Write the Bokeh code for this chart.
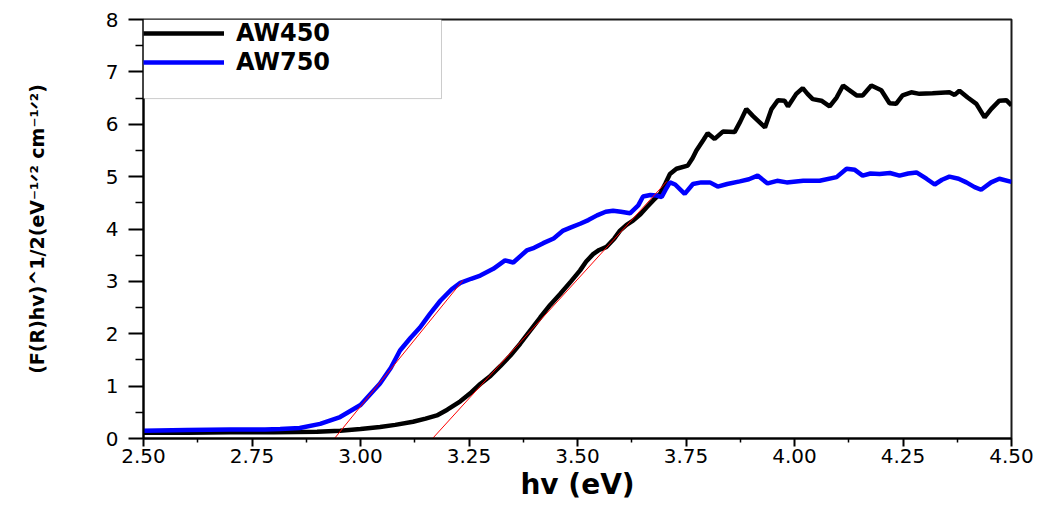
from bokeh.plotting import figure
from bokeh.models import (Range1d, FixedTicker, Legend, LegendItem,
                          BoxAnnotation)
from bokeh.embed import file_html
from bokeh.resources import INLINE

# ---------------- data ----------------
aw450_x = [2.50, 2.60, 2.70, 2.80, 2.90, 2.953, 3.00, 3.045, 3.08, 3.121, 3.15,
           3.176, 3.20, 3.23, 3.255, 3.276, 3.30, 3.322, 3.345, 3.368, 3.39,
           3.414, 3.437, 3.46, 3.485, 3.506, 3.52, 3.536, 3.55, 3.567, 3.585,
           3.598, 3.613, 3.628, 3.645, 3.659, 3.675, 3.69, 3.703, 3.713, 3.728,
           3.754, 3.765, 3.774, 3.782, 3.79, 3.80, 3.816, 3.835, 3.862, 3.875,
           3.889, 3.904, 3.918, 3.932, 3.947, 3.962, 3.977, 3.985, 4.004, 4.019,
           4.03, 4.042, 4.062, 4.081, 4.097, 4.112, 4.123, 4.143, 4.157, 4.177,
           4.20, 4.219, 4.234, 4.249, 4.269, 4.288, 4.318, 4.357, 4.369, 4.38,
           4.399, 4.419, 4.438, 4.453, 4.472, 4.488, 4.50]
aw450_y = [0.11, 0.11, 0.12, 0.12, 0.13, 0.15, 0.18, 0.22, 0.26, 0.32, 0.38,
           0.44, 0.55, 0.71, 0.88, 1.04, 1.20, 1.38, 1.58, 1.81, 2.05,
           2.31, 2.55, 2.76, 3.00, 3.21, 3.38, 3.52, 3.60, 3.66, 3.82,
           3.97, 4.08, 4.16, 4.28, 4.41, 4.55, 4.67, 4.88, 5.05, 5.15,
           5.21, 5.35, 5.50, 5.60, 5.70, 5.83, 5.72, 5.86, 5.85, 6.05,
           6.29, 6.16, 6.05, 5.94, 6.29, 6.46, 6.45, 6.34, 6.58, 6.69,
           6.58, 6.48, 6.45, 6.34, 6.51, 6.74, 6.67, 6.55, 6.55, 6.74,
           6.65, 6.40, 6.39, 6.55, 6.61, 6.58, 6.59, 6.61, 6.56, 6.64,
           6.51, 6.39, 6.13, 6.29, 6.45, 6.46, 6.36]

aw750_x = [2.50, 2.60, 2.70, 2.78, 2.815, 2.86, 2.907, 2.953, 3.00, 3.045, 3.07,
           3.091, 3.115, 3.137, 3.16, 3.184, 3.21, 3.23, 3.255, 3.276, 3.306,
           3.333, 3.352, 3.383, 3.40, 3.421, 3.445, 3.467, 3.485, 3.506, 3.525,
           3.545, 3.565, 3.582, 3.60, 3.621, 3.64, 3.651, 3.668, 3.682, 3.694,
           3.703, 3.713, 3.725, 3.747, 3.766, 3.785, 3.805, 3.823, 3.845, 3.874,
           3.895, 3.915, 3.938, 3.96, 3.982, 4.02, 4.058, 4.097, 4.12, 4.139,
           4.157, 4.175, 4.196, 4.22, 4.242, 4.262, 4.281, 4.304, 4.323, 4.34,
           4.357, 4.378, 4.396, 4.415, 4.43, 4.453, 4.472, 4.50]
aw750_y = [0.15, 0.16, 0.17, 0.17, 0.18, 0.20, 0.28, 0.41, 0.64, 1.05, 1.35,
           1.68, 1.92, 2.12, 2.38, 2.63, 2.85, 2.97, 3.05, 3.11, 3.24,
           3.40, 3.36, 3.59, 3.64, 3.73, 3.82, 3.97, 4.03, 4.10, 4.17,
           4.26, 4.33, 4.35, 4.33, 4.30, 4.45, 4.62, 4.65, 4.64, 4.61,
           4.75, 4.89, 4.85, 4.67, 4.86, 4.89, 4.89, 4.81, 4.86, 4.91,
           4.95, 5.02, 4.87, 4.92, 4.89, 4.92, 4.92, 4.99, 5.15, 5.13,
           5.02, 5.06, 5.05, 5.07, 5.02, 5.06, 5.08, 4.96, 4.85, 4.94,
           5.00, 4.96, 4.89, 4.80, 4.75, 4.89, 4.96, 4.90]

# linear fits (Tauc extrapolation lines)
fit750_x = [2.94, 3.236]
fit750_y = [0.0, 3.02]
fit450_x = [3.166, 3.706]
fit450_y = [0.0, 4.91]

series_names = ["AW450", "AW750"]
x_title = "hv (eV)"
y_title = "(F(R)hv)^1/2(eV\u207b\u00b9\u141f\u00b2 cm\u207b\u00b9\u141f\u00b2)"

x_ticks = [2.50, 2.75, 3.00, 3.25, 3.50, 3.75, 4.00, 4.25, 4.50]
x_tick_labels = ["2.50", "2.75", "3.00", "3.25", "3.50", "3.75", "4.00", "4.25", "4.50"]
x_minor = [2.625, 2.875, 3.125, 3.375, 3.625, 3.875, 4.125, 4.375]
y_ticks = [0, 1, 2, 3, 4, 5, 6, 7, 8]
y_tick_labels = ["0", "1", "2", "3", "4", "5", "6", "7", "8"]
y_minor = [0.5, 1.5, 2.5, 3.5, 4.5, 5.5, 6.5, 7.5]

# ---------------- figure ----------------
p = figure(width=1040, height=505, output_backend="svg", toolbar_location=None,
           x_range=Range1d(2.5, 4.5), y_range=Range1d(0, 8),
           min_border_left=143, min_border_right=29, min_border_top=19,
           min_border_bottom=67)
p.grid.visible = False
p.background_fill_color = "white"
p.border_fill_color = "white"
p.outline_line_color = "#1a1a1a"
p.outline_line_width = 2

r450 = p.line(aw450_x, aw450_y, line_color="black", line_width=4.5)
r750 = p.line(aw750_x, aw750_y, line_color="#0000ff", line_width=4.5)
p.line(fit750_x, fit750_y, line_color="red", line_width=1)
p.line(fit450_x, fit450_y, line_color="red", line_width=1)

# axes
xa = p.xaxis[0]
xa.ticker = FixedTicker(ticks=x_ticks, minor_ticks=x_minor)
xa.major_label_overrides = {t: l for t, l in zip(x_ticks, x_tick_labels)}
xa.major_tick_out = 8
xa.major_tick_in = 0
xa.minor_tick_out = 4
xa.minor_tick_in = 0
xa.major_label_standoff = 2
xa.major_label_text_font = "DejaVu Sans"
xa.major_label_text_font_size = "20px"
xa.major_label_text_color = "black"
xa.axis_label = x_title
xa.axis_label_standoff = 2
xa.axis_label_text_font = "DejaVu Sans"
xa.axis_label_text_font_style = "bold"
xa.axis_label_text_font_size = "28px"
xa.axis_label_text_color = "black"

ya = p.yaxis[0]
ya.ticker = FixedTicker(ticks=y_ticks, minor_ticks=y_minor)
ya.major_label_overrides = {t: l for t, l in zip(y_ticks, y_tick_labels)}
ya.major_tick_out = 15
ya.major_tick_in = 0
ya.minor_tick_out = 8
ya.minor_tick_in = 0
ya.major_label_standoff = 10
ya.major_label_text_font = "DejaVu Sans"
ya.major_label_text_font_size = "20px"
ya.major_label_text_color = "black"
ya.axis_label = y_title
ya.axis_label_standoff = 55
ya.axis_label_text_font = "DejaVu Sans"
ya.axis_label_text_font_style = "bold"
ya.axis_label_text_font_size = "19px"
ya.axis_label_text_color = "black"

for ax in (xa, ya):
    ax.axis_line_color = "black"
    ax.axis_line_width = 2
    ax.major_tick_line_color = "black"
    ax.major_tick_line_width = 2
    ax.minor_tick_line_color = "black"
    ax.minor_tick_line_width = 1.5

# legend box + legend
box = BoxAnnotation(left=2.5, right=3.1866, bottom=6.49, top=8,
                    fill_color="white", fill_alpha=1.0,
                    line_color="#555555", line_width=1)
p.add_layout(box)

legend = Legend(items=[LegendItem(label=series_names[0], renderers=[r450]),
                       LegendItem(label=series_names[1], renderers=[r750])],
                location="top_left", margin=0, padding=0, spacing=1,
                glyph_width=81, glyph_height=26, label_standoff=12,
                label_text_font="DejaVu Sans", label_text_font_style="bold",
                label_text_font_size="24px", label_text_color="black",
                border_line_alpha=0, background_fill_alpha=0)
p.add_layout(legend)

open("out.html", "w").write(file_html(p, INLINE))
